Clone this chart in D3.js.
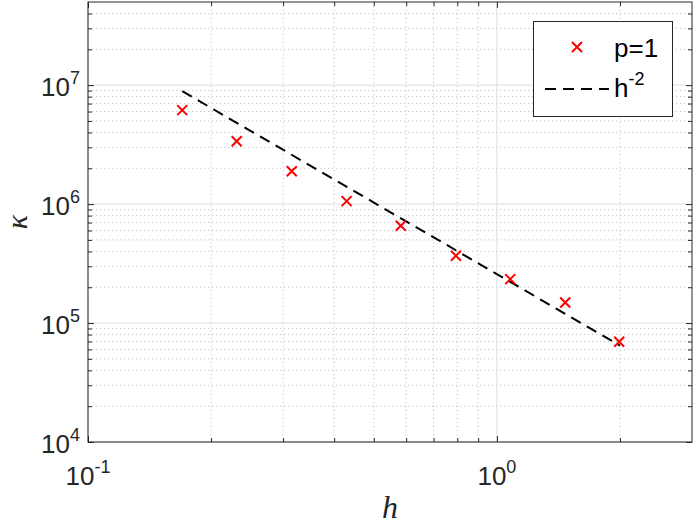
<!DOCTYPE html>
<html>
<head>
<meta charset="utf-8">
<script src="https://cdn.jsdelivr.net/npm/d3@7/dist/d3.min.js"></script>
<style>
  body { margin: 0; background: #fff; }
  svg { display: block; }
</style>
</head>
<body>
<svg id="chart" width="698" height="528"></svg>
<script>
// data
const hVals = [0.170, 0.231, 0.315, 0.429, 0.582, 0.794, 1.078, 1.469, 1.991];
const kappaVals = [6.17e6, 3.38e6, 1.89e6, 1.06e6, 6.58e5, 3.68e5, 2.34e5, 1.49e5, 6.96e4];
// reference slope line h^-2
const refH = [0.17, 2.0];
const refKappa = [8.9e6, 6.45e4];

const xTickVals = [0.1, 1];
const xTickExps = ['-1', '0'];
const yTickVals = [1e4, 1e5, 1e6, 1e7];
const yTickExps = ['4', '5', '6', '7'];

const width = 698, height = 528;
const margin = { top: 2, right: 6, bottom: 86, left: 88 };
const axisColor = '#262626';

const svg = d3.select('#chart');

const x = d3.scaleLog().domain([0.1, 3]).range([margin.left, width - margin.right]);
const y = d3.scaleLog().domain([1e4, 5e7]).range([height - margin.bottom, margin.top]);

const x0 = x.range()[0], x1 = x.range()[1];
const y0 = y.range()[1], y1 = y.range()[0];

// minor ticks, skipping the decades
function minorTicks(scale) {
    const [a, b] = scale.domain();
    const out = [];
    for (let e = Math.floor(Math.log10(a)); e <= Math.ceil(Math.log10(b)); e++) {
        for (let m = 2; m <= 9; m++) {
            const v = m * Math.pow(10, e);
            if (v > a * 1.0001 && v < b * 0.9999) out.push(v);
        }
    }
    return out;
}
const xMinor = minorTicks(x);
const yMinor = minorTicks(y);

const grid = svg.append('g');
// minor grid dotted
grid.selectAll('.xm').data(xMinor).enter().append('line')
    .attr('x1', d => x(d)).attr('x2', d => x(d))
    .attr('y1', y0).attr('y2', y1)
    .attr('stroke', '#c4c4c4').attr('stroke-width', 1)
    .attr('stroke-dasharray', '1.2,2.8');
grid.selectAll('.ym').data(yMinor).enter().append('line')
    .attr('x1', x0).attr('x2', x1)
    .attr('y1', d => y(d)).attr('y2', d => y(d))
    .attr('stroke', '#c4c4c4').attr('stroke-width', 1)
    .attr('stroke-dasharray', '1.2,2.8');
// major grid solid
grid.selectAll('.xM').data(xTickVals).enter().append('line')
    .attr('x1', d => x(d)).attr('x2', d => x(d))
    .attr('y1', y0).attr('y2', y1)
    .attr('stroke', '#dedede').attr('stroke-width', 1);
grid.selectAll('.yM').data(yTickVals).enter().append('line')
    .attr('x1', x0).attr('x2', x1)
    .attr('y1', d => y(d)).attr('y2', d => y(d))
    .attr('stroke', '#dedede').attr('stroke-width', 1);

// axes with inward ticks on all four sides
function drawAxis(axisFn, scale, vals, size, transform) {
    svg.append('g')
        .attr('transform', transform)
        .call(axisFn(scale).tickValues(vals).tickSize(size).tickFormat(''))
        .call(g => g.select('.domain').remove())
        .call(g => g.selectAll('line').attr('stroke', axisColor));
}
drawAxis(d3.axisBottom, x, xTickVals, -6, `translate(0,${y1})`);
drawAxis(d3.axisBottom, x, xMinor, -4, `translate(0,${y1})`);
drawAxis(d3.axisTop, x, xTickVals, -6, `translate(0,${y0})`);
drawAxis(d3.axisTop, x, xMinor, -4, `translate(0,${y0})`);
drawAxis(d3.axisLeft, y, yTickVals, -6, `translate(${x0},0)`);
drawAxis(d3.axisLeft, y, yMinor, -4, `translate(${x0},0)`);
drawAxis(d3.axisRight, y, yTickVals, -6, `translate(${x1},0)`);
drawAxis(d3.axisRight, y, yMinor, -4, `translate(${x1},0)`);

svg.append('rect')
    .attr('x', x0).attr('y', y0)
    .attr('width', x1 - x0).attr('height', y1 - y0)
    .attr('fill', 'none').attr('stroke', axisColor).attr('stroke-width', 1);

// tick labels as 10^n
const font = 'Liberation Sans, Arial, Helvetica, sans-serif';
xTickVals.forEach((v, i) => {
    const t = svg.append('text')
        .attr('x', x(v)).attr('y', y1 + 43)
        .attr('text-anchor', 'middle')
        .attr('font-family', font).attr('font-size', 26)
        .attr('fill', axisColor);
    t.append('tspan').text('10');
    t.append('tspan').attr('dy', -12).attr('font-size', 18).text(xTickExps[i]);
});
yTickVals.forEach((v, i) => {
    const t = svg.append('text')
        .attr('x', x0 - 8).attr('y', y(v) + 11)
        .attr('text-anchor', 'end')
        .attr('font-family', font).attr('font-size', 26)
        .attr('fill', axisColor);
    t.append('tspan').text('10');
    t.append('tspan').attr('dy', -12).attr('font-size', 18).text(yTickExps[i]);
});

// axis labels
svg.append('text')
    .attr('x', (x0 + x1) / 2).attr('y', 518)
    .attr('text-anchor', 'middle')
    .attr('font-family', 'Liberation Serif, DejaVu Serif, serif')
    .attr('font-style', 'italic').attr('font-size', 32)
    .attr('fill', axisColor)
    .text('h');
svg.append('text')
    .attr('transform', `translate(27,${(y0 + y1) / 2}) rotate(-90)`)
    .attr('text-anchor', 'middle')
    .attr('font-family', 'Liberation Serif, DejaVu Serif, serif')
    .attr('font-style', 'italic').attr('font-size', 30)
    .attr('fill', axisColor)
    .text('κ');

// reference line
svg.append('path')
    .datum(refH.map((h, i) => [h, refKappa[i]]))
    .attr('fill', 'none')
    .attr('stroke', '#000').attr('stroke-width', 2)
    .attr('stroke-dasharray', '11,7')
    .attr('d', d3.line().x(d => x(d[0])).y(d => y(d[1])));

// x markers
const xMark = (g, cx, cy, r) => {
    g.append('path')
        .attr('d', `M${cx - r},${cy - r}L${cx + r},${cy + r}M${cx - r},${cy + r}L${cx + r},${cy - r}`)
        .attr('stroke', '#ff0000').attr('stroke-width', 2).attr('fill', 'none');
};
const marks = svg.append('g');
hVals.forEach((h, i) => xMark(marks, x(h), y(kappaVals[i]), 5));

// legend
const lg = svg.append('g');
lg.append('rect')
    .attr('x', 533.5).attr('y', 21.5).attr('width', 139).attr('height', 95)
    .attr('fill', '#fff').attr('stroke', axisColor).attr('stroke-width', 1);
xMark(lg, 577, 47, 5);
lg.append('text')
    .attr('x', 614).attr('y', 57)
    .attr('font-family', font).attr('font-size', 26).attr('fill', '#000')
    .text('p=1');
lg.append('line')
    .attr('x1', 545).attr('x2', 609).attr('y1', 89).attr('y2', 89)
    .attr('stroke', '#000').attr('stroke-width', 2).attr('stroke-dasharray', '11,7');
const lt = lg.append('text')
    .attr('x', 614).attr('y', 97)
    .attr('font-family', font).attr('font-size', 26).attr('fill', '#000');
lt.append('tspan').text('h');
lt.append('tspan').attr('dy', -12).attr('font-size', 18).text('-2');
</script>
</body>
</html>
